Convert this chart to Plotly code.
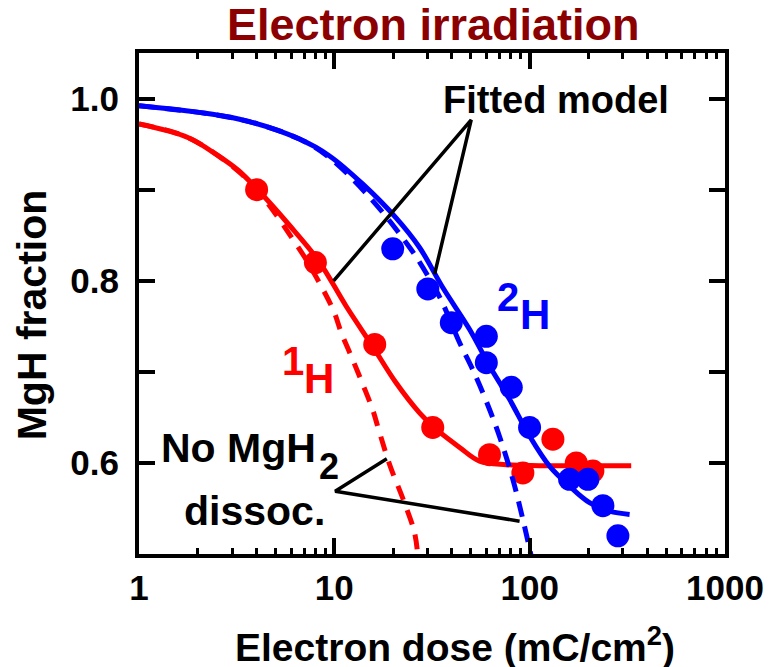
import plotly.graph_objects as go

FONT = "Liberation Sans, Arial, sans-serif"
RED = "#ff0000"
BLUE = "#0000ff"
TITLE_COLOR = "#8b0000"

# ---- measured points ----
h1_dose = [4.0, 8.0, 16.1, 31.9, 62.3, 92.3, 131.5, 173.2, 210.7]
h1_frac = [0.900, 0.820, 0.730, 0.639, 0.609, 0.589, 0.626, 0.600, 0.591]

h2_dose = [19.9, 30.1, 39.7, 60.0, 60.0, 80.5, 99.9, 160.1, 198.6, 237.1, 282.9]
h2_frac = [0.835, 0.791, 0.754, 0.739, 0.710, 0.683, 0.639, 0.582, 0.582, 0.553, 0.520]

# ---- fitted model (solid) ----
h1_fit_dose = [1.0, 1.79, 2.55, 3.23, 4.09, 5.83, 8.3, 11.5, 15.7, 20.7, 27.3, 33.2, 43.8, 55.4, 75.9, 112.4, 331]
h1_fit_frac = [0.972, 0.957, 0.937, 0.921, 0.899, 0.862, 0.822, 0.772, 0.728, 0.688, 0.655, 0.637, 0.617, 0.602, 0.598, 0.597, 0.597]

h2_fit_dose = [1.0, 3.23, 6.63, 9.45, 14.0, 20.7, 27.3, 35.9, 49.2, 62.3, 78.9, 99.9, 126.4, 160, 202.6, 256.6, 324.8]
h2_fit_frac = [0.992, 0.9775, 0.9555, 0.937, 0.906, 0.869, 0.8365, 0.7925, 0.7467, 0.7064, 0.6698, 0.6295, 0.5965, 0.5745, 0.5563, 0.547, 0.5434]

# ---- no MgH2 dissociation (dashed) ----
h1_nd_dose = [1.0, 1.79, 3.23, 4.09, 4.94, 5.90, 7.04, 8.08, 9.91, 10.85, 12.32, 14.0, 15.74, 16.84, 19.2, 22.6, 25.7, 26.7]
h1_nd_frac = [0.972, 0.957, 0.920, 0.897, 0.875, 0.851, 0.826, 0.804, 0.767, 0.743, 0.715, 0.686, 0.658, 0.637, 0.598, 0.559, 0.524, 0.500]

h2_nd_dose = [1.0, 3.23, 6.63, 9.45, 15.7, 24.3, 28.4, 35.0, 43.8, 51.2, 59.9, 70.1, 82.0, 92.3, 101.9]
h2_nd_frac = [0.992, 0.9775, 0.9555, 0.935, 0.888, 0.8365, 0.8145, 0.780, 0.732, 0.702, 0.668, 0.629, 0.582, 0.538, 0.4976]

# ---- leader lines for labels ----
fit_leader_dose = [9.91, 50.2, 32.6]
fit_leader_frac = [0.7998, 0.9767, 0.8071]
nd_leader_dose = [18.57, 10.1, 88.8]
nd_leader_frac = [0.6046, 0.569, 0.536]

x_tickvals = [1, 10, 100, 1000]
x_ticktext = ["1", "10", "100", "1000"]
y_tickvals = [0.6, 0.7, 0.8, 0.9, 1.0]
y_ticktext = ["0.6", " ", "0.8", " ", "1.0"]

fig = go.Figure()

# red (1H)
fig.add_trace(go.Scatter(x=h1_nd_dose, y=h1_nd_frac, mode="lines", line=dict(color=RED, width=5, dash="15px,11px", shape="spline")))
fig.add_trace(go.Scatter(x=h1_fit_dose, y=h1_fit_frac, mode="lines", line=dict(color=RED, width=5, shape="spline")))
fig.add_trace(go.Scatter(x=h1_dose, y=h1_frac, mode="markers", marker=dict(color=RED, size=23)))
# blue (2H)
fig.add_trace(go.Scatter(x=h2_nd_dose, y=h2_nd_frac, mode="lines", line=dict(color=BLUE, width=5, dash="16px,10px", shape="spline")))
fig.add_trace(go.Scatter(x=h2_fit_dose, y=h2_fit_frac, mode="lines", line=dict(color=BLUE, width=5, shape="spline")))
fig.add_trace(go.Scatter(x=h2_dose, y=h2_frac, mode="markers", marker=dict(color=BLUE, size=23)))
# leader lines
fig.add_trace(go.Scatter(x=fit_leader_dose, y=fit_leader_frac, mode="lines", line=dict(color="black", width=3.5)))
fig.add_trace(go.Scatter(x=nd_leader_dose, y=nd_leader_frac, mode="lines", line=dict(color="black", width=3.5)))

def txt(text, x, y, size, color="black", xanchor="center", yanchor="middle", textangle=0):
    fig.add_annotation(text=text, x=x, y=y, xref="paper", yref="paper", showarrow=False,
                       xanchor=xanchor, yanchor=yanchor, textangle=textangle,
                       font=dict(family=FONT, size=size, color=color, weight="bold"))

txt("Electron irradiation", 0.503, 1.056, 45, TITLE_COLOR)
txt("Electron dose (mC/cm<sup>2</sup>)", 0.54, -0.181, 39)
txt("MgH fraction", -0.183, 0.478, 41, textangle=-90)
txt("Fitted model", 0.7108, 0.906, 38)
txt("No MgH", 0.0346, 0.2106, 41, xanchor="left")
txt("2", 0.3032, 0.1756, 36, xanchor="left")
txt("dissoc.", 0.0729, 0.0858, 41, xanchor="left")
txt("1", 0.2628, 0.3852, 40, RED)
txt("H", 0.3077, 0.3503, 42, RED)
txt("2", 0.6305, 0.513, 40, BLUE)
txt("H", 0.6766, 0.478, 42, BLUE)

axis_common = dict(showgrid=False, zeroline=False, showline=True, linecolor="black", linewidth=4,
                   ticks="inside", tickcolor="black", tickwidth=4, ticklen=16, mirror="allticks",
                   automargin=False,
                   tickfont=dict(family=FONT, size=35, color="black", weight="bold"))

fig.update_xaxes(type="log", range=[0, 3], tickvals=x_tickvals, ticktext=x_ticktext,
                 minor=dict(ticks="inside", ticklen=6, tickwidth=3, tickcolor="black", dtick="D1", showgrid=False),
                 ticklabelstandoff=0, **axis_common)
fig.update_yaxes(range=[0.5, 1.05], tickvals=y_tickvals, ticktext=y_ticktext, ticklabelstandoff=9, **axis_common)

# the page body adds an 8px offset, so margins are reduced by 8px on the left/top
fig.update_layout(width=771, height=667, autosize=False, showlegend=False,
                  margin=dict(l=131, r=54, t=45, b=121),
                  plot_bgcolor="white", paper_bgcolor="white")

fig.write_html("out.html")
